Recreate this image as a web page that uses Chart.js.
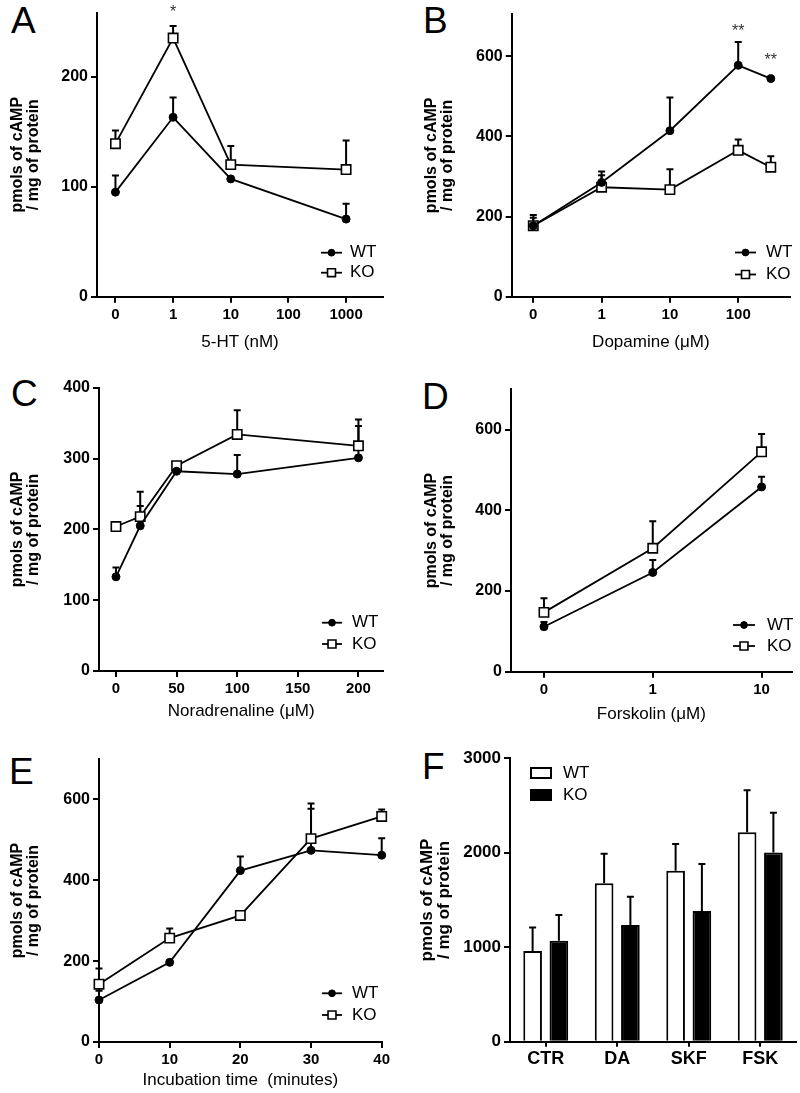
<!DOCTYPE html>
<html><head><meta charset="utf-8">
<script src="https://cdn.jsdelivr.net/npm/chart.js@4.4.1/dist/chart.umd.min.js"></script>
<style>
body{margin:0;background:#fff;width:800px;height:1093px;position:relative;overflow:hidden;font-family:'Liberation Sans',Arial,sans-serif}
canvas{position:absolute}
.lt{position:absolute;font-size:37px;line-height:1;color:#000}
</style></head>
<body>
<div class="lt" style="left:11px;top:2px">A</div>
<div class="lt" style="left:423px;top:2px">B</div>
<div class="lt" style="left:11px;top:375px">C</div>
<div class="lt" style="left:422px;top:378px">D</div>
<div class="lt" style="left:9px;top:753px">E</div>
<div class="lt" style="left:422px;top:748px">F</div>
<canvas id="cA" width="400" height="360" style="left:0;top:0"></canvas>
<canvas id="cB" width="400" height="360" style="left:400px;top:0"></canvas>
<canvas id="cC" width="400" height="370" style="left:0;top:360px"></canvas>
<canvas id="cD" width="400" height="370" style="left:400px;top:360px"></canvas>
<canvas id="cE" width="400" height="363" style="left:0;top:730px"></canvas>
<canvas id="cF" width="400" height="363" style="left:400px;top:730px"></canvas>
<script>
// ---- data ----
// A: 5-HT (nM)
const TICKS_A = ['0','1','10','100','1000'];
const DOSE_A = [0,1,10,1000];
const WT_A = [95,163,107,70.5], WT_A_ERR = [15,18,0,14];
const KO_A = [139,235,120,115.5], KO_A_ERR = [12,11,17,26.5];
// B: dopamine (uM)
const TICKS_B = ['0','1','10','100'];
const DOSE_B = [0,1,10,100,300];
const WT_B = [177,285,414,577,544], WT_B_ERR = [27,27,83,58,0];
const KO_B = [177,273,267,365,323], KO_B_ERR = [20,30,51,27,27];
// C: noradrenaline (uM)
const DOSE_C = [0,20,50,100,200];
const WT_C = [133,205,282,278,301], WT_C_ERR = [13,28,0,27,45];
const KO_C = [204,218,290,334,318], KO_C_ERR = [0,35,0,34,37];
// D: forskolin (uM)
const TICKS_D = ['0','1','10'];
const DOSE_D = [0,1,10];
const WT_D = [111.5,246,458], WT_D_ERR = [12,31,25];
const KO_D = [147,306,545], KO_D_ERR = [35,67,44];
// E: incubation time (min)
const TIME_E = [0,10,20,30,40];
const WT_E = [104,197,424,474,462], WT_E_ERR = [23,0,35,103,42];
const KO_E = [143,257,313,503,558], KO_E_ERR = [39,24,0,87,17];
// F: bars
const CATS_F = ['CTR','DA','SKF','FSK'];
const WT_F = [960,1676,1810,2216], WT_F_ERR = [250,314,282,447];
const KO_F = [1069,1235,1383,2004], KO_F_ERR = [272,299,497,419];

const FONT = "'Liberation Sans', Arial, sans-serif";
Chart.defaults.font.family = FONT;
Chart.defaults.color = '#000';
Chart.defaults.animation = false;

// log-spaced position, 0 one decade below 1
const lpos = d => d===0 ? 0 : Math.log10(d)+1;

// ---- plugins ----
const errBars = {
  id:'errBars',
  beforeDatasetsDraw(chart){
    const ctx=chart.ctx, ys=chart.scales.y;
    ctx.save(); ctx.strokeStyle='#000'; ctx.lineWidth=2;
    chart.data.datasets.forEach((ds,i)=>{
      if(!ds.err) return;
      const meta=chart.getDatasetMeta(i);
      meta.data.forEach((el,j)=>{
        const e=ds.err[j]; if(!e) return;
        const d=ds.data[j], v=typeof d==='object'?d.y:d;
        const y1=ys.getPixelForValue(v+e), cap=ds.cap||3.5;
        ctx.beginPath();
        ctx.moveTo(el.x,el.y); ctx.lineTo(el.x,y1);
        ctx.moveTo(el.x-cap,y1); ctx.lineTo(el.x+cap,y1);
        ctx.stroke();
      });
    });
    ctx.restore();
  }
};
const keyPlug = {
  id:'key',
  afterDraw(chart,args,o){
    if(o.x==null) return;
    const ctx=chart.ctx;
    ctx.save();
    ctx.font='17px '+FONT; ctx.textBaseline='middle'; ctx.fillStyle='#000';
    chart.data.datasets.forEach((ds,i)=>{
      const y=o.y+i*o.gap;
      if(o.box){
        ctx.fillStyle=ds.backgroundColor; ctx.strokeStyle='#000'; ctx.lineWidth=2;
        ctx.fillRect(o.x,y-6,22,12); ctx.strokeRect(o.x+1,y-5,20,10);
      }else{
        ctx.strokeStyle='#000'; ctx.lineWidth=ds.borderWidth;
        ctx.beginPath(); ctx.moveTo(o.x,y); ctx.lineTo(o.x+o.len,y); ctx.stroke();
        ctx.fillStyle=ds.pointBackgroundColor; ctx.strokeStyle=ds.pointBorderColor; ctx.lineWidth=ds.pointBorderWidth;
        Chart.helpers.drawPoint(ctx,{pointStyle:ds.pointStyle,radius:ds.pointRadius*0.85,rotation:0,borderWidth:ds.pointBorderWidth},o.x+o.len/2,y);
      }
      ctx.fillStyle='#000';
      ctx.fillText(ds.label,o.tx,y);
    });
    ctx.restore();
  }
};
const starPlug = {
  id:'stars',
  afterDraw(chart,args,o){
    if(!o.list) return;
    const ctx=chart.ctx;
    ctx.save(); ctx.font='16px '+FONT; ctx.fillStyle='#333'; ctx.textAlign='center'; ctx.textBaseline='middle';
    o.list.forEach(s=>ctx.fillText(s.t,chart.scales.x.getPixelForValue(s.x),chart.scales.y.getPixelForValue(s.y)+4));
    ctx.restore();
  }
};
Chart.register(errBars,keyPlug,starPlug);

function wt(xs,ys,err){
  return {label:'WT',data:xs.map((x,i)=>({x:x,y:ys[i]})),err:err,borderColor:'#000',borderWidth:1.8,clip:false,
    pointStyle:'circle',pointRadius:4,pointBackgroundColor:'#000',pointBorderColor:'#000',pointBorderWidth:1};
}
function ko(xs,ys,err){
  return {label:'KO',data:xs.map((x,i)=>({x:x,y:ys[i]})),err:err,borderColor:'#000',borderWidth:1.8,clip:false,
    pointStyle:'rect',pointRadius:6.6,pointBackgroundColor:'#fff',pointBorderColor:'#000',pointBorderWidth:1.6};
}
const axisGrid = {display:true,drawOnChartArea:false,drawTicks:true,tickLength:6,color:'#000',lineWidth:2};
const axisBorder = {display:true,color:'#000',width:2};
const yTitle = (pad,size) => ({display:true,text:['pmols of cAMP','/ mg of protein'],
  font:{size:size||16,weight:'bold',lineHeight:1},padding:{top:pad,bottom:0}});

function panel(id,area,x,y,extra){
  const cv=document.getElementById(id), W=cv.width, H=cv.height;
  x.afterFit = s=>{s.height=H-area.B;};
  y.afterFit = s=>{s.width=area.L;};
  const cfg = {
    type:extra.type||'line',
    data:{labels:extra.labels,datasets:extra.datasets},
    options:{responsive:false,animation:false,
      layout:{padding:{left:0,top:area.T,right:W-area.R,bottom:0}},
      plugins:{legend:{display:false},tooltip:{enabled:false},key:extra.key,stars:extra.stars||{}},
      scales:{x:x,y:y}}
  };
  return new Chart(cv,cfg);
}
function xlog(ticks,min,max,title,pad){
  return {type:'linear',min:min,max:max,grid:axisGrid,border:axisBorder,
    afterBuildTicks:s=>{s.ticks=ticks.map((t,i)=>({value:i}));},
    ticks:{callback:(v,i)=>ticks[i],font:{size:15,weight:'bold'},padding:3,maxRotation:0},
    title:{display:true,text:title,font:{size:17},padding:{top:0,bottom:pad}}};
}
function xlin(vals,min,max,title,pad){
  return {type:'linear',min:min,max:max,grid:axisGrid,border:axisBorder,
    afterBuildTicks:s=>{s.ticks=vals.map(v=>({value:v}));},
    ticks:{callback:v=>String(v),font:{size:15,weight:'bold'},padding:3,maxRotation:0},
    title:{display:true,text:title,font:{size:17},padding:{top:0,bottom:pad}}};
}
function ylin(max,vals,tpad,fs){
  return {type:'linear',min:0,max:max,grid:axisGrid,border:axisBorder,
    afterBuildTicks:s=>{s.ticks=vals.map(v=>({value:v}));},
    ticks:{callback:v=>String(v),font:{size:fs||16,weight:'bold'},padding:3},
    title:yTitle(tpad,fs)};
}

// A
panel('cA',{L:97,R:383,T:12.7,B:296.7},
  xlog(TICKS_A,-0.32,4.64,'5-HT (nM)',7.8),
  ylin(258,[0,100,200],10),
  {datasets:[wt(DOSE_A.map(lpos),WT_A,WT_A_ERR),ko(DOSE_A.map(lpos),KO_A,KO_A_ERR)],
   key:{x:321,y:252.7,gap:20,len:21,tx:350},
   stars:{list:[{x:lpos(1),y:262,t:'*'}]}});
// B
panel('cB',{L:111.7,R:390,T:14,B:296.7},
  xlog(TICKS_B,-0.316,3.758,'Dopamine (\u03bcM)',7.8),
  ylin(705,[0,200,400,600],24),
  {datasets:[wt(DOSE_B.map(lpos),WT_B,WT_B_ERR),ko(DOSE_B.map(lpos),KO_B,KO_B_ERR)],
   key:{x:335,y:252.5,gap:22,len:21,tx:366},
   stars:{list:[{x:lpos(100),y:670,t:'**'},{x:lpos(300),y:598,t:'**'}]}});
// C
panel('cC',{L:99,R:383.3,T:27.7,B:311},
  xlin([0,50,100,150,200],-14,220.5,'Noradrenaline (\u03bcM)',8.8),
  ylin(400,[0,100,200,300,400],10),
  {datasets:[wt(DOSE_C,WT_C,WT_C_ERR),ko(DOSE_C,KO_C,KO_C_ERR)],
   key:{x:322,y:262.7,gap:21.3,len:20,tx:352}});
// D
panel('cD',{L:111,R:391.7,T:29.3,B:311.7},
  xlog(TICKS_D,-0.303,2.277,'Forskolin (\u03bcM)',5.8),
  ylin(700,[0,200,400,600],24),
  {datasets:[wt(DOSE_D.map(lpos),WT_D,WT_D_ERR),ko(DOSE_D.map(lpos),KO_D,KO_D_ERR)],
   key:{x:333,y:265,gap:21,len:22,tx:367}});
// E
panel('cE',{L:99,R:381.7,T:29,B:312},
  xlin([0,10,20,30,40],0,40,'Incubation time  (minutes)',2.8),
  ylin(700,[0,200,400,600],10),
  {datasets:[wt(TIME_E,WT_E,WT_E_ERR),ko(TIME_E,KO_E,KO_E_ERR)],
   key:{x:322,y:263.3,gap:21.7,len:20,tx:352}});
// F
panel('cF',{L:110,R:396,T:28.3,B:311.7},
  {type:'category',offset:true,grid:Object.assign({},axisGrid,{offset:false,tickLength:5}),border:axisBorder,
   ticks:{font:{size:18,weight:'bold'},padding:2}},
  ylin(3000,[0,1000,2000,3000],19,17),
  {type:'bar',labels:CATS_F,
   datasets:[
    {label:'WT',data:WT_F,err:WT_F_ERR,cap:3.5,backgroundColor:'#fff',borderColor:'#000',borderWidth:2,
     categoryPercentage:0.735,barPercentage:0.71},
    {label:'KO',data:KO_F,err:KO_F_ERR,cap:3.5,backgroundColor:'#000',borderColor:'#000',borderWidth:2,
     categoryPercentage:0.735,barPercentage:0.71}],
   key:{x:130,y:43,gap:22,box:true,tx:163}});
</script>
</body></html>
